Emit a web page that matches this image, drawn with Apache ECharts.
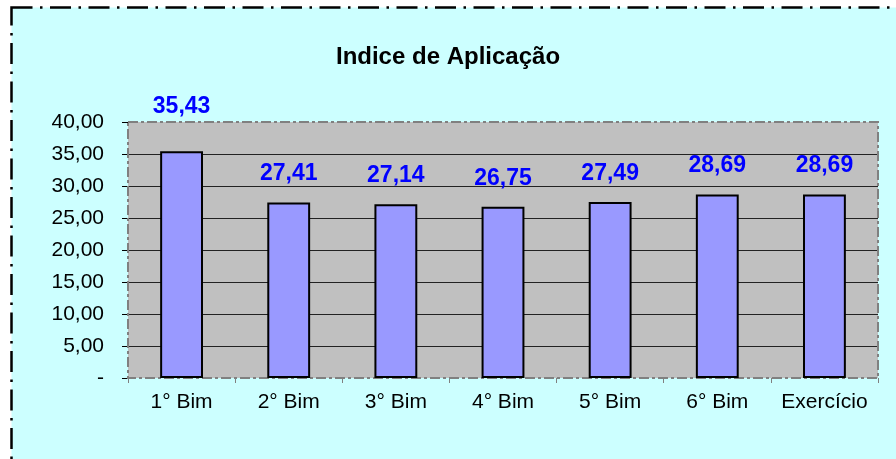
<!DOCTYPE html>
<html>
<head>
<meta charset="utf-8">
<script src="https://cdn.jsdelivr.net/npm/echarts@6/dist/echarts.min.js"></script>
<style>
html,body{margin:0;padding:0;background:#ffffff;}
#chart{width:896px;height:459px;}
</style>
</head>
<body>
<div id="chart"></div>
<script>
const titleText = 'Indice de Aplicação';
const categories = ['1° Bim', '2° Bim', '3° Bim', '4° Bim', '5° Bim', '6° Bim', 'Exercício'];
const values = [35.43, 27.41, 27.14, 26.75, 27.49, 28.69, 28.69];
const yMin = 0, yMax = 40, yStep = 5;

// layout
const W = 896, H = 459;
const G = { left: 128, top: 122, right: 18, bottom: 81 };
const FONT = '"Liberation Sans", Arial, sans-serif';

function fmt(v) {
  return v === 0 ? '-' : v.toFixed(2).replace('.', ',');
}

const chart = echarts.init(document.getElementById('chart'), null, { renderer: 'canvas', width: W, height: H });

const seriesData = values.map((v, i) => ({
  value: v,
  label: i === 0 ? { distance: 33 } : undefined
}));

chart.setOption({
  animation: false,
  backgroundColor: '#ffffff',
  title: {
    text: titleText,
    left: 'center',
    top: 45,
    padding: 0,
    textStyle: { fontFamily: FONT, fontSize: 24, fontWeight: 'bold', color: '#000' }
  },
  graphic: [
    {
      type: 'rect', z: -10, silent: true,
      shape: { x: 11.5, y: 7.5, width: W + 20, height: H + 20 },
      style: { fill: '#CCFFFF', stroke: '#000', lineWidth: 2.5, lineDash: [21, 7.5, 2.5, 7.5] }
    },
    {
      type: 'rect', z: 1, silent: true,
      shape: { x: G.left, y: G.top, width: W - G.left - G.right, height: H - G.top - G.bottom },
      style: { fill: null, stroke: '#808080', lineWidth: 2, lineDash: [10, 3, 3, 3] }
    }
  ],
  grid: {
    left: G.left, top: G.top, right: G.right, bottom: G.bottom,
    show: true, backgroundColor: '#C0C0C0', borderWidth: 0,
    containLabel: false
  },
  xAxis: {
    type: 'category',
    data: categories,
    axisLine: { show: false },
    axisTick: { show: true, interval: 0, length: 5, lineStyle: { color: '#808080', width: 1 } },
    axisLabel: { interval: 0, color: '#000', fontFamily: FONT, fontSize: 21, margin: 14 },
    splitLine: { show: false }
  },
  yAxis: {
    type: 'value',
    min: yMin, max: yMax, interval: yStep,
    axisLine: { show: false },
    axisTick: { show: true, length: 6, lineStyle: { color: '#000', width: 1 } },
    axisLabel: { color: '#000', fontFamily: FONT, fontSize: 21, margin: 24, formatter: fmt },
    splitLine: { show: true, showMinLine: false, showMaxLine: false, lineStyle: { color: '#222', width: 1 } }
  },
  series: [{
    type: 'bar',
    data: seriesData,
    barCategoryGap: '60%',
    z: 2,
    itemStyle: { color: '#9999FF', borderColor: '#000', borderWidth: 2 },
    label: {
      show: true,
      position: 'top',
      distance: 17,
      color: '#0000FF',
      fontFamily: FONT,
      fontSize: 23,
      fontWeight: 'bold',
      formatter: p => fmt(p.value)
    }
  }]
});
</script>
</body>
</html>
